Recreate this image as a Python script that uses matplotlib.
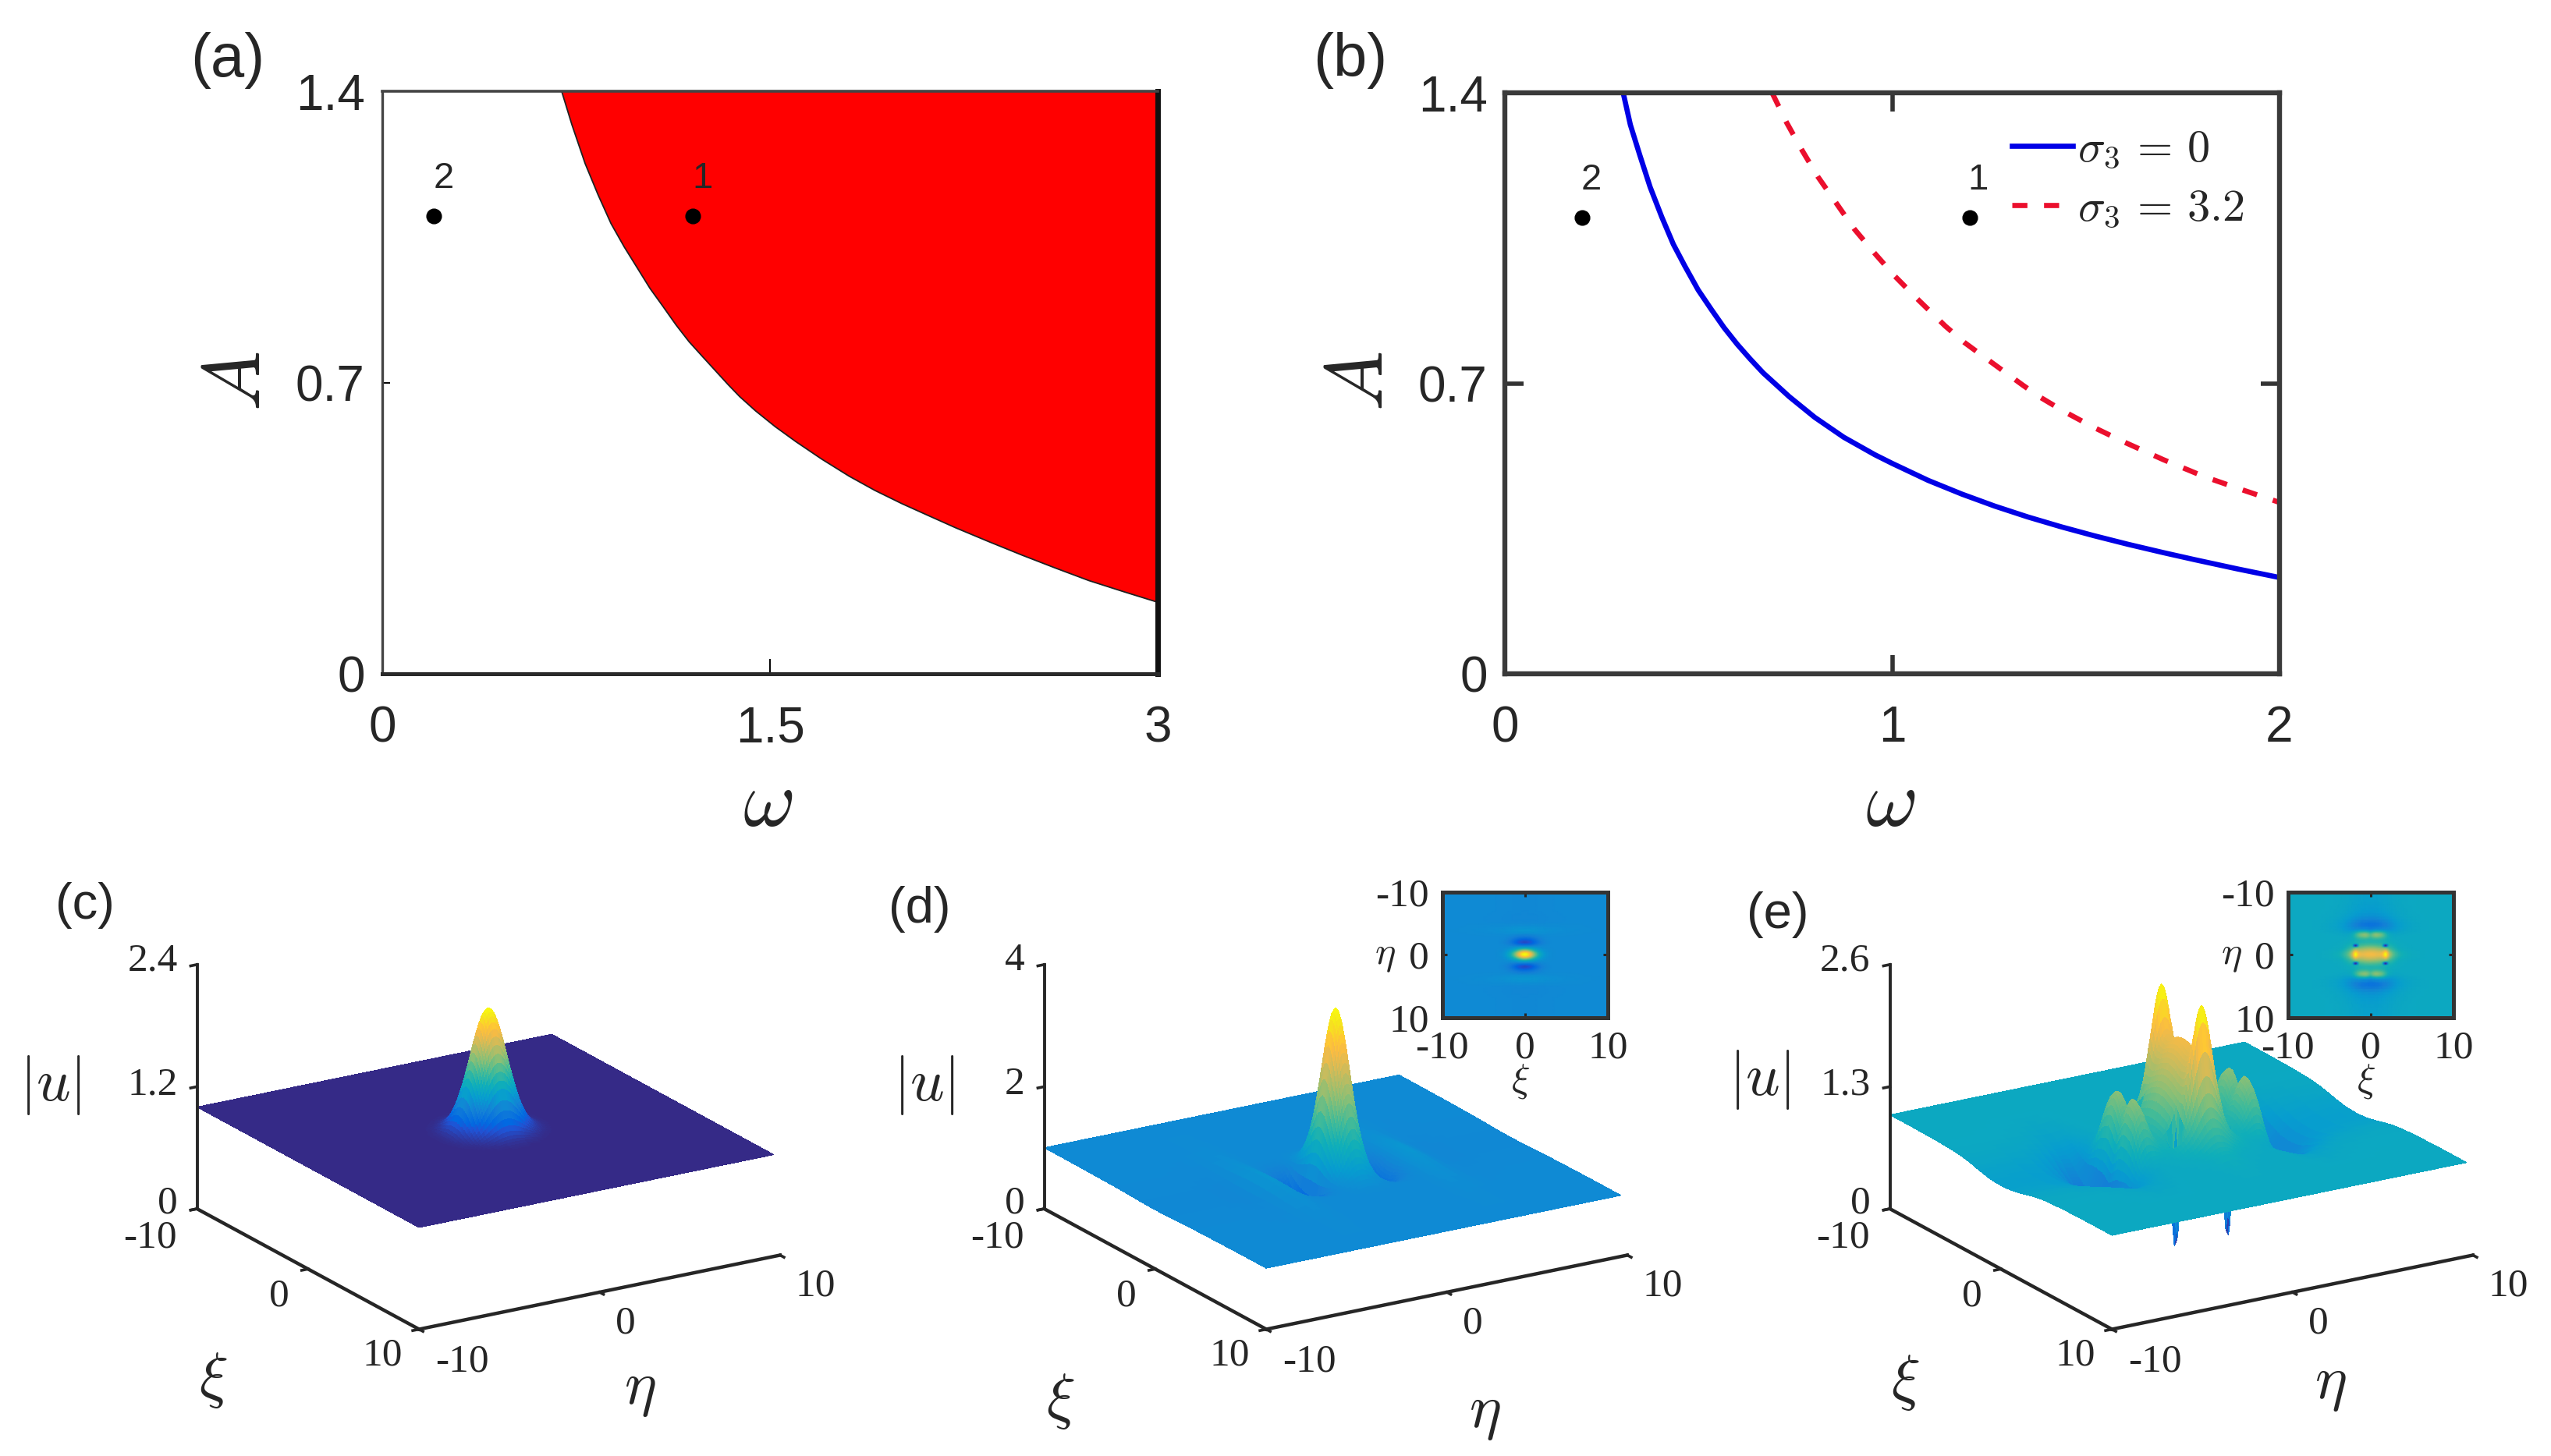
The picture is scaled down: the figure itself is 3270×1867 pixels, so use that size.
import numpy as np
import matplotlib
matplotlib.use('Agg')
from matplotlib import pyplot as plt
from matplotlib.colors import LinearSegmentedColormap
from mpl_toolkits.mplot3d import proj3d

W, H = 3270, 1867
plt.rcParams['font.family'] = ['Liberation Sans', 'DejaVu Sans']
plt.rcParams['mathtext.fontset'] = 'cm'

# panel (a), boundary of the red region
omega_a = [.694, .734, .785, .835, .885, .936, .986, 1.036, 1.087, 1.137, 1.187, 1.238, 1.288, 1.338, 1.383,
           1.444, 1.52, 1.60, 1.70, 1.806, 1.905, 2.01, 2.11, 2.218, 2.345, 2.476, 2.605, 2.734, 2.87, 3.0]
A_a = [1.40, 1.319, 1.226, 1.151, 1.082, 1.026, .976, .926, .882, .838, .798, .763, .729, .695, .666,
       .632, .594, .558, .516, .475, .441, .409, .381, .351, .318, .285, .254, .224, .197, .172]

# panel (b), the two curves
omega_b0 = [.3055, .324, .348, .375, .405, .435, .465, .499, .533, .566, .60, .633, .667, .70, .734, .80, .875,
            .955, 1.0, 1.093, 1.18, 1.265, 1.35, 1.437, 1.52, 1.609, 1.70, 1.781, 1.89, 2.0]
A_b0 = [1.40, 1.323, 1.251, 1.173, 1.101, 1.035, .982, .925, .878, .834, .794, .759, .725, .697, .668, .618, .57,
        .528, .507, .466, .433, .404, .378, .354, .333, .312, .292, .275, .253, .232]
omega_b1 = [.69, .727, .767, .808, .855, .902, .955, 1.006, 1.062, 1.137, 1.187, 1.238, 1.288, 1.338, 1.383,
            1.444, 1.52, 1.60, 1.70, 1.806, 1.905, 2.0]
A_b1 = [1.40, 1.329, 1.262, 1.198, 1.135, 1.072, 1.013, .959, .906, .838, .798, .763, .729, .695, .666,
        .632, .594, .558, .516, .475, .443, .413]

point_omega = [1.2, 0.2]
point_A = [1.10, 1.10]
point_names = ['1', '2']

# half grids of the surfaces, each profile below has one value per grid point
eta_half = [0, .1, .2, .3, .4, .5, .6, .7, .8, .9, 1, 1.1, 1.2,
            1.35, 1.5, 1.65, 1.8, 1.95, 2.1, 2.25, 2.4,
            2.5, 2.6, 2.7, 2.8, 2.9, 3, 3.1, 3.2, 3.3, 3.4, 3.5, 3.6, 3.7, 3.8, 3.9, 4,
            4.5, 5, 5.5, 6, 6.5, 7, 8, 9, 10]
xi_half = [0, .1, .2, .3, .4, .5, .6, .7, .8, .9, 1, 1.1, 1.2,
           1.35, 1.5, 1.65, 1.8, 1.95, 2.1, 2.25, 2.4,
           2.6, 2.8, 3, 3.2, 3.4, 3.6, 3.8, 4,
           4.5, 5, 5.5, 6, 6.5, 7, 8, 9, 10]

# panel (c)
c_amp = 1.2
c_peak_eta = [1, .9936, .9745, .9435, .9019, .851, .7927, .729, .6615, .593, .5245, .458, .395,
              .308, .2335, .172, .1235, .086, .058, .038, .0243,
              .018, .0127, .009, .0063, .0044, .003, .002, .0014, .001, .0006, .0004, .0002, .0001, .0001, 0, 0,
              0, 0, 0, 0, 0, 0, 0, 0, 0]
c_peak_xi = [1, .9936, .9745, .9435, .9019, .851, .7927, .729, .6615, .593, .5245, .458, .395,
             .308, .2335, .172, .1235, .086, .058, .038, .0243,
             .0127, .0063, .003, .0014, .0006, .0002, .0001, 0,
             0, 0, 0, 0, 0, 0, 0, 0, 0]

# panel (d)
d_peak_amp = 2.67
d_peak_eta = [1, .985, .94, .87, .78, .68, .58, .48, .385, .30, .23, .165, .115,
              .06, .025, .005, 0, 0, 0, 0, 0,
              0, 0, 0, 0, 0, 0, 0, 0, 0, 0, 0, 0, 0, 0, 0, 0,
              0, 0, 0, 0, 0, 0, 0, 0, 0]
d_peak_xi = [1, .99, .975, .945, .905, .86, .805, .75, .69, .63, .57, .51, .455,
             .38, .31, .25, .2, .155, .12, .09, .065,
             .04, .025, .015, .008, .004, 0, 0, 0,
             0, 0, 0, 0, 0, 0, 0, 0, 0]
d_dip_amp = -0.72
d_dip_eta = [0, 0, 0, 0, 0, 0, 0, 0, 0, .02, .05, .1, .18,
             .32, .5, .72, .92, 1, .95, .82, .66,
             .56, .46, .37, .3, .24, .18, .13, .08, .05, .02, .01, 0, 0, 0, 0, 0,
             0, 0, 0, 0, 0, 0, 0, 0, 0]
d_dip_xi = [1, 1, .99, .97, .95, .92, .89, .85, .8, .75, .7, .64, .58,
            .5, .42, .34, .27, .21, .16, .12, .09,
            .06, .04, .02, .01, 0, 0, 0, 0,
            0, 0, 0, 0, 0, 0, 0, 0, 0]
d_rip_eta = [0, 0, 0, 0, 0, 0, 0, 0, 0, 0, 0, 0, 0,
             0, 0, 0, 0, 0, 0, 0, 0,
             0, 0, 0, 0, .01, .02, .035, .05, .07, .09, .105, .12, .13, .14, .14, .14,
             .06, -.02, -.05, -.05, -.04, -.03, -.03, -.03, -.03]
d_rip_xi = [1, 1, 1, .99, .99, .98, .97, .96, .95, .94, .92, .9, .88,
            .85, .81, .77, .73, .69, .65, .61, .57,
            .52, .48, .44, .41, .38, .35, .32, .3,
            .25, .2, .16, .13, .1, .06, .03, .01, 0]

# panel (e)
e_blob_amp = 0.95
e_blob_eta = [1, .995, .98, .96, .93, .9, .86, .82, .77, .72, .66, .6, .54,
              .46, .38, .3, .24, .18, .13, .09, .06,
              .05, .04, .03, .02, .015, .01, .005, 0, 0, 0, 0, 0, 0, 0, 0, 0,
              0, 0, 0, 0, 0, 0, 0, 0, 0]
e_blob_xi = [1, 1, .995, .99, .98, .97, .955, .94, .92, .9, .88, .86, .83,
             .79, .74, .69, .63, .57, .5, .43, .37,
             .3, .23, .17, .12, .08, .05, .03, .02,
             .01, 0, 0, 0, 0, 0, 0, 0, 0]
e_spike_amp = 0.76
e_spike_eta = [1, .98, .93, .85, .75, .63, .51, .39, .28, .19, .12, .07, .04,
               .015, 0, 0, 0, 0, 0, 0, 0,
               0, 0, 0, 0, 0, 0, 0, 0, 0, 0, 0, 0, 0, 0, 0, 0,
               0, 0, 0, 0, 0, 0, 0, 0, 0]
e_spike_xi = [0, 0, 0, 0, 0, 0, 0, 0, .01, .02, .04, .07, .12,
              .22, .42, .72, .98, .82, .5, .26, .12,
              .04, .01, 0, 0, 0, 0, 0, 0,
              0, 0, 0, 0, 0, 0, 0, 0, 0]
e_bar_amp = 0.2
e_bar_xi = [.55, .55, .56, .57, .58, .6, .62, .64, .66, .68, .7, .72, .75,
            .78, .82, .86, .9, .94, .97, .96, .92,
            .86, .78, .7, .6, .5, .42, .35, .3,
            .2, .12, .07, .04, .02, 0, 0, 0, 0]
e_hump_amp = 0.68
e_hump_eta = [0, 0, 0, 0, 0, 0, 0, 0, 0, 0, 0, 0, 0,
              0, 0, 0, .01, .03, .08, .16, .28,
              .38, .48, .6, .72, .83, .92, .98, 1, .98, .92, .83, .72, .6, .48, .38, .28,
              .05, 0, 0, 0, 0, 0, 0, 0, 0]
e_hump_xi = [.72, .76, .82, .88, .93, .97, 1, 1, .99, .97, .94, .91, .88,
             .8, .7, .58, .46, .34, .24, .16, .1,
             .05, .02, 0, 0, 0, 0, 0, 0,
             0, 0, 0, 0, 0, 0, 0, 0, 0]
e_dip_amp = -1.2
e_dip_eta = [0, 0, 0, 0, 0, 0, 0, 0, 0, 0, 0, .05, .35,
             1, 1, .35, .05, 0, 0, 0, 0,
             0, 0, 0, 0, 0, 0, 0, 0, 0, 0, 0, 0, 0, 0, 0, 0,
             0, 0, 0, 0, 0, 0, 0, 0, 0]
e_dip_xi = [0, 0, 0, 0, 0, 0, 0, 0, 0, 0, 0, 0, 0,
            .03, .3, .85, 1, .85, .3, .03, 0,
            0, 0, 0, 0, 0, 0, 0, 0,
            0, 0, 0, 0, 0, 0, 0, 0, 0]
e_tr_amp = -0.55
e_tr_eta = [0, 0, 0, 0, 0, 0, 0, 0, 0, 0, 0, 0, 0,
            0, 0, 0, 0, 0, 0, 0, .01,
            .02, .03, .05, .07, .1, .14, .18, .23, .29, .35, .42, .5, .58, .66, .74, .82,
            1, .95, .7, .5, .38, .3, .22, .2, .2]
e_tr_xi = [1, 1, 1, .99, .99, .98, .97, .96, .95, .94, .92, .9, .88,
           .84, .8, .76, .72, .68, .63, .58, .53,
           .47, .41, .36, .31, .27, .23, .2, .17,
           .12, .09, .06, .04, .03, .02, 0, 0, 0]

parula_rgb = [(.2081, .1663, .5292), (.1253, .3242, .8303), (.0060, .4086, .8828),
              (.0779, .5040, .8384), (.0265, .6137, .8135), (.0590, .6838, .7254),
              (.2586, .7317, .5954), (.5300, .7491, .4661), (.7858, .7356, .3633),
              (.9739, .7314, .2666), (.9955, .7861, .1967), (.9589, .8949, .1132),
              (.9763, .9831, .0538)]
parula_pos = [0, 6 / 63, 9 / 63, 15 / 63, 21 / 63, 27 / 63, 33 / 63, 39 / 63, 46 / 63,
              52 / 63, 55 / 63, 59 / 63, 1]
parula = LinearSegmentedColormap.from_list('parula', list(zip(parula_pos, parula_rgb)), N=256)

DARK = '#262626'
SERIF = 'Liberation Serif'


def both_sides(half):
    half = np.array(half, dtype=float)
    return np.r_[half[:0:-1], half]


def term(amp, eta_vals, xi_vals):
    return amp * np.outer(both_sides(eta_vals), both_sides(xi_vals))


eta_full = np.array(eta_half, dtype=float)
eta_full = np.r_[-eta_full[:0:-1], eta_full]
xi_full = np.array(xi_half, dtype=float)
xi_full = np.r_[-xi_full[:0:-1], xi_full]
XI, ETA = np.meshgrid(xi_full, eta_full)
# the surfaces stop a little short of the eta axis end
ETA_SURF = np.minimum(ETA, 9.65)

Z_c = 1 + term(c_amp, c_peak_eta, c_peak_xi)
Z_d = (1 + term(d_peak_amp, d_peak_eta, d_peak_xi) + term(d_dip_amp, d_dip_eta, d_dip_xi)
       + term(1.0, d_rip_eta, d_rip_xi))
Z_e = (1 + term(e_blob_amp, e_blob_eta, e_blob_xi) + term(e_spike_amp, e_spike_eta, e_spike_xi)
       + term(e_bar_amp, e_spike_eta, e_bar_xi) + term(e_hump_amp, e_hump_eta, e_hump_xi)
       + term(e_dip_amp, e_dip_eta, e_dip_xi) + term(e_tr_amp, e_tr_eta, e_tr_xi))

fig = plt.figure(figsize=(W / 100, H / 100), dpi=100)


def axes_px(x0, y0, x1, y1, **kw):
    return fig.add_axes([x0 / W, 1 - y1 / H, (x1 - x0) / W, (y1 - y0) / H], **kw)


def label(x, y, s, size, **kw):
    fig.text(x / W, 1 - y / H, s, fontsize=size, ha='center', va='center', color=kw.pop('color', DARK), **kw)


def top_axes(x0, y0, x1, y1, xticks, xlabels, side_ticks):
    ax = axes_px(x0, y0, x1, y1)
    ax.set_xticks(xticks)
    ax.set_xticklabels(xlabels)
    ax.set_yticks([0, 0.7, 1.4])
    ax.set_yticklabels(['0', '0.7', '1.4'])
    ax.set_xlim(xticks[0], xticks[-1])
    ax.set_ylim(0, 1.4)
    ax.tick_params(axis='x', direction='in', top=side_ticks, labelsize=46, pad=29, labelcolor=DARK)
    ax.tick_params(axis='y', direction='in', right=side_ticks, labelsize=46, pad=16, labelcolor=DARK)
    return ax


# (a)
ax = top_axes(490, 117, 1484, 864, [0, 1.5, 3], ['0', '1.5', '3'], False)
ax.fill_between(omega_a, A_a, 1.4, color='#ff0000', lw=0)
ax.plot(omega_a, A_a, color='#202020', lw=1.3)
ax.plot(point_omega, point_A, 'o', color='k', ms=13.5, clip_on=False)
ax.text(1.238, 1.19, point_names[0], fontsize=34, ha='center', va='center', color=DARK)
ax.text(0.237, 1.19, point_names[1], fontsize=34, ha='center', va='center', color=DARK)
ax.tick_params(axis='x', length=14, width=1.4)
ax.tick_params(axis='y', length=7, width=1.4)
ax.spines['left'].set(linewidth=2.4, color='#444444')
ax.spines['top'].set(linewidth=2.6, color='#444444')
ax.spines['right'].set(linewidth=5, color='#101010')
ax.spines['bottom'].set(linewidth=3.6, color='#2a2a2a')

# (b)
ax = top_axes(1929, 119, 2922, 864, [0, 1, 2], ['0', '1', '2'], True)
line0, = ax.plot(omega_b0, A_b0, color='#0000e6', lw=4.8, label=r'$\sigma_3\,=\,0$')
line1, = ax.plot(omega_b1, A_b1, color='#eb0f2d', lw=4.8, dashes=(2.9, 3.2), label=r'$\sigma_3\,=\,3.2$')
ax.plot(point_omega, point_A, 'o', color='k', ms=13.5)
ax.text(1.222, 1.19, point_names[0], fontsize=34, ha='center', va='center', color=DARK)
ax.text(0.224, 1.19, point_names[1], fontsize=34, ha='center', va='center', color=DARK)
ax.tick_params(axis='both', length=17, width=4, color='#333333')
for side in ax.spines.values():
    side.set(linewidth=4.6, color='#3a3a3a')
ax.legend(handles=[line0, line1], loc='upper left', bbox_to_anchor=(0.655, 0.938), frameon=False,
          fontsize=42, borderpad=0, borderaxespad=0, handlelength=1.33, handletextpad=0.1,
          labelspacing=0.38, labelcolor=DARK)

label(292, 77, '(a)', 56)
label(1731, 77, '(b)', 56)
label(984, 1032, r'$\omega$', 74)
label(2423, 1032, r'$\omega$', 74)
label(306, 489, r'$A$', 74, rotation=90)
label(1745, 489, r'$A$', 74, rotation=90)


def corner_px(ax):
    xs, ys, zs = np.array([-10., 10.]), np.array([-10., 10.]), np.zeros(2)
    px, py, _ = proj3d.proj_transform(xs, ys, zs, ax.get_proj())
    return ax.transData.transform(np.c_[px, py])


def place_box(ax, origin, eta_end):
    # resize the axes so the box corners land on the wanted pixels
    target = np.hypot(eta_end[0] - origin[0], eta_end[1] - origin[1])
    for i in range(4):
        ax.apply_aspect()
        pts = corner_px(ax)
        s = target / np.hypot(*(pts[1] - pts[0]))
        pos = ax.get_position()
        ax.set_position([pos.x0, pos.y0, pos.width * s, pos.height * s])
        ax.apply_aspect()
        pts = corner_px(ax)
        pos = ax.get_position()
        ax.set_position([pos.x0 + (origin[0] - pts[0][0]) / W, pos.y0 + (H - origin[1] - pts[0][1]) / H,
                         pos.width, pos.height])


def surface_panel(x0, Z, zmax, zticks, vmin, vmax, tag, tag_off, u_off, xi_off, eta_off):
    origin = (x0, 1550)
    eta_end = (x0 + 747.5, 1609)
    ax = axes_px(x0 - 200, 1000, x0 + 1000, 2200, projection='3d', proj_type='ortho', computed_zorder=False)
    ax.view_init(elev=19.5, azim=-121.6)
    ax.set_box_aspect((543, 543, 332))
    ax.set_xlim(-10, 10)
    ax.set_ylim(10, -10)
    ax.set_zlim(0, zmax)
    ax.set_axis_off()
    # one strip per xi step, far ones first, so steep flanks hide what is behind them
    for i in range(len(xi_full) - 1):
        ax.plot_surface(ETA_SURF[:, i:i + 2], XI[:, i:i + 2], Z[:, i:i + 2], rstride=1, cstride=1, cmap=parula,
                        vmin=vmin, vmax=vmax, linewidth=0, antialiased=False, shade=False, zorder=1 + i / 100)
    # axis lines with small ticks
    ax.plot([-10, -10], [-10, -10], [0, zmax], color=DARK, lw=2.8, zorder=10)
    ax.plot([-10, -10], [-10, 10], [0, 0], color=DARK, lw=3.2, zorder=10)
    ax.plot([-10, 10], [10, 10], [0, 0], color=DARK, lw=3.2, zorder=10)
    for z in zticks:
        ax.plot([-10, -10.35], [-10, -10], [z, z], color=DARK, lw=2.6, zorder=10)
    for v in [-10, 0, 10]:
        ax.plot([-10, -10.35], [v, v], [0, 0], color=DARK, lw=2.6, zorder=10)
        ax.plot([v, v], [10, 10.35], [0, 0], color=DARK, lw=2.6, zorder=10)
    place_box(ax, origin, eta_end)

    ox, oy = origin
    for z, dy in zip(zticks, [-7, -159, -318]):
        fig.text((ox - 25) / W, 1 - (oy + dy) / H, ('%g' % z), family=SERIF, fontsize=37, ha='right',
                 va='center', color=DARK)
    for (dx, dy), s in zip([(-60, 37), (105, 112), (238, 188), (340, 196), (549, 147), (793, 99)],
                           ['-10', '0', '10', '-10', '0', '10']):
        label(ox + dx, oy + dy, s, 37, family=SERIF)
    label(ox + tag_off[0], oy + tag_off[1], tag, 47)
    label(ox + u_off[0], oy + u_off[1], r'$|u|$', 55)
    label(ox + xi_off[0], oy + xi_off[1], r'$\xi$', 56)
    label(ox + eta_off[0], oy + eta_off[1], r'$\eta$', 56)


def inset(x0, Z, vmin, vmax, eta_x, xi_x):
    ax = axes_px(x0, 1144, x0 + 212.5, 1304.5, zorder=5)
    ax.pcolormesh(XI, ETA, Z, shading='gouraud', cmap=parula, vmin=vmin, vmax=vmax)
    ax.set_xlim(-10, 10)
    ax.set_ylim(10, -10)
    ax.set_xticks([-10, 0, 10])
    ax.set_xticklabels(['-10', '0', '10'], family=SERIF, fontsize=37, color=DARK)
    ax.set_yticks([-10, 0, 10])
    ax.set_yticklabels(['-10', '0', '10'], family=SERIF, fontsize=37, color=DARK)
    ax.tick_params(direction='in', top=True, right=True, length=4, width=2.2, color=DARK)
    ax.tick_params(axis='x', pad=12)
    ax.tick_params(axis='y', pad=12)
    for side in ax.spines.values():
        side.set(linewidth=3.6, color='#333333')
    label(eta_x, 1226, r'$\eta$', 36)
    label(xi_x, 1386, r'$\xi$', 36)


surface_panel(252.5, Z_c, 2.4, [0, 1.2, 2.4], 1.0, 2.2, '(c)', (-144, -389), (-188, -159), (21, 220), (568, 232))
surface_panel(1338.5, Z_d, 4, [0, 2, 4], 0, 3.67, '(d)', (-160, -384), (-154, -159), (21, 247), (565, 262))
surface_panel(2422.5, Z_e, 2.6, [0, 1.3, 2.6], 0, 2.52, '(e)', (-144, -377), (-167, -166), (20, 223), (565, 225))

inset(1848.5, Z_d, 0, 3.67, 1775, 1949)
inset(2932.5, Z_e, 0, 2.52, 2860, 3033)

fig.savefig('out.png', dpi=100, facecolor='white')
